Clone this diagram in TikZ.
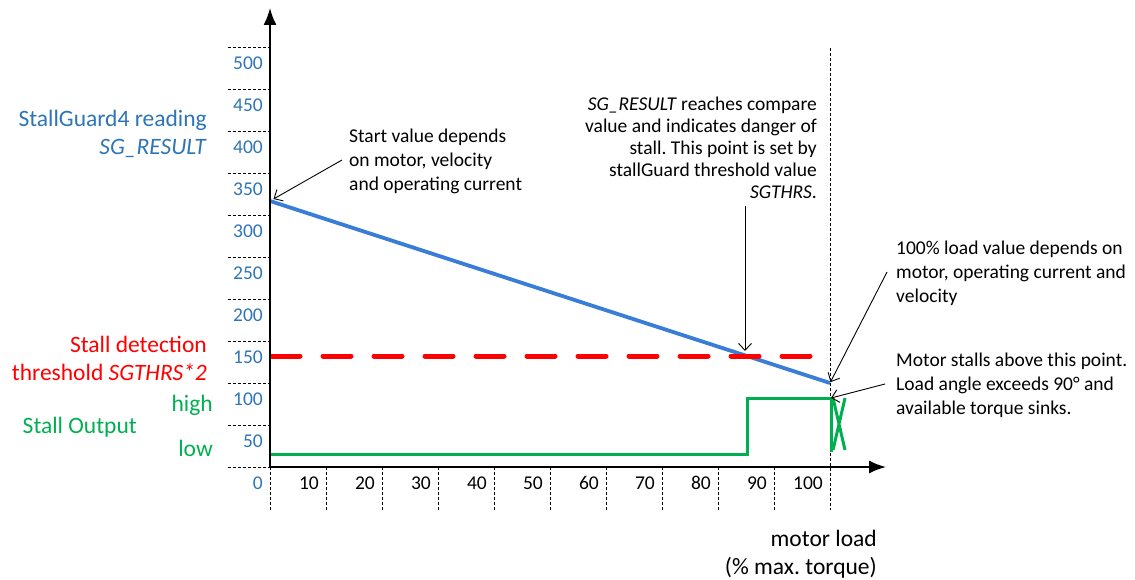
\documentclass[tikz,border=0pt]{standalone}
\usepackage{fontspec}
\setmainfont{Carlito}
\usetikzlibrary{arrows.meta}
\definecolor{sgblue}{RGB}{46,117,182}
\definecolor{sgline}{RGB}{58,125,215}
\definecolor{sgred}{RGB}{255,0,0}
\definecolor{sggreen}{RGB}{0,176,80}
\frenchspacing
\begin{document}
\begin{tikzpicture}[x=1pt,y=-1pt,
  font=\fontsize{19.5}{24}\selectfont,
  every node/.style={inner sep=0pt},
  biglabel/.style={font=\fontsize{23.5}{28}\selectfont},
  axis/.style={line width=1.8pt,-{Latex[length=17pt,width=13pt]}},
  gridline/.style={line width=0.8pt,dash pattern=on 3pt off 2pt},
  note/.style={line width=0.9pt,-{Straight Barb[length=7pt,width=13pt]}}]
\useasboundingbox (0,0) rectangle (1135,580);

% named points of the graph
\coordinate (origin) at (270,467);
\coordinate (ytop) at (270,8);
\coordinate (xend) at (886,467);
\coordinate (sgStart) at (270,201);
\coordinate (sgEnd) at (830,383);
\coordinate (crossPt) at (745,356);
\coordinate (highEnd) at (831,398);

% grid dashes
\foreach \k in {0,...,10}
  \draw[gridline] (228,{467-42*\k}) -- (270,{467-42*\k});
\foreach \k in {0,...,9}
  \draw[gridline] ({270+56*\k},467) -- ({270+56*\k},510);
\draw[gridline] (830,48) -- (830,510);

% scale labels
\foreach \v [count=\k from 0] in {0,50,...,500}
  \node[anchor=east,text=sgblue] at (263,{483-42*\k}) {\v};
\foreach \v [count=\k] in {10,20,...,100}
  \node[anchor=east] at ({263+56*\k},483) {\v};

% curves
\draw[line width=3.8pt,sgline] (sgStart) -- (sgEnd);
\draw[line width=5pt,sgred,line cap=round,dash pattern=on 28pt off 23pt] (272,356) -- (810,356);
\draw[line width=3pt,sggreen] (270,454) -- (747,454) -- (747,398) -- (highEnd) -- (831,452);
\draw[line width=3pt,sggreen] (833,398) -- (845,450) (845,398) -- (833,450);

% axes
\draw[axis] (origin) -- (ytop);
\draw[axis] (origin) -- (xend);

% labels on the left
\node[biglabel,anchor=east,align=right,text=sgblue] (sgLabel) at (207,134) {StallGuard4 reading\\\textit{SG\_RESULT}};
\node[biglabel,anchor=east,align=right,text=sgred] (thrLabel) at (207,358) {Stall detection\\threshold \textit{SGTHRS*2}};
\node[biglabel,anchor=east,text=sggreen] (outLabel) at (137,427) {Stall Output};
\node[biglabel,anchor=east,text=sggreen] (highLabel) at (213,405) {high};
\node[biglabel,anchor=east,text=sggreen] (lowLabel) at (213,448) {low};
\node[biglabel,anchor=east,align=right] (xLabel) at (877,554) {motor load\\(\% max. torque)};

% notes
\node[anchor=west,align=left] (startNote) at (349,161) {Start value depends\\on motor, velocity\\and operating current};
\node[anchor=east,align=right,font=\fontsize{19.5}{22}\selectfont] (compareNote) at (817,148) {\textit{SG\_RESULT} reaches compare\\value and indicates danger of\\stall. This point is set by\\stallGuard threshold value\\\textit{SGTHRS}.};
\node[anchor=west,align=left] (loadNote) at (896,273) {100\% load value depends on\\motor, operating current and\\velocity};
\node[anchor=west,align=left] (stallNote) at (896,385) {Motor stalls above this point.\\Load angle exceeds 90° and\\available torque sinks.};

\coordinate (startFrom) at (342,160);
\coordinate (compareFrom) at (745,206);
\coordinate (loadFrom) at (887,272);
\coordinate (stallFrom) at (885,384);
\draw[note,shorten >=4pt] (startFrom) -- (sgStart);
\draw[note,shorten >=5pt] (compareFrom) -- (crossPt);
\draw[note,shorten >=1pt] (loadFrom) -- (sgEnd);
\draw[note] (stallFrom) -- (highEnd);
\end{tikzpicture}
\end{document}
